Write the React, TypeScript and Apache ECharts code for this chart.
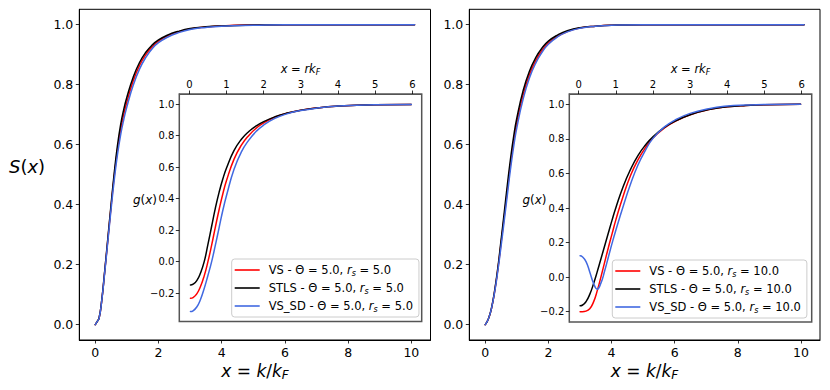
import React, { useEffect, useRef } from "react";
import * as echarts from "echarts";

const FONT = "DejaVu Sans";
const RED = "#ff0000";
const BLACK = "#000000";
const BLUE = "#4169e1";

// ---------- main panels: S(x) ----------
const sx = [0, 0.06, 0.12, 0.2, 0.3, 0.4, 0.5, 0.6, 0.7, 0.8, 0.9, 1.0, 1.2, 1.4, 1.6, 1.8, 2.0, 2.3, 2.6, 3.0, 3.5, 4.0, 5.0, 6.0, 8.0, 10.1];

const sVsL = [0, 0.01, 0.021, 0.076, 0.178, 0.285, 0.393, 0.494, 0.58, 0.648, 0.7, 0.742, 0.812, 0.864, 0.9, 0.926, 0.945, 0.963, 0.975, 0.986, 0.992, 0.996, 0.999, 1.0, 1.0, 1.0];
const sStlsL = [0, 0.01, 0.022, 0.077, 0.18, 0.29, 0.4, 0.505, 0.595, 0.665, 0.717, 0.758, 0.825, 0.874, 0.908, 0.932, 0.949, 0.966, 0.977, 0.987, 0.993, 0.996, 0.999, 1.0, 1.0, 1.0];
const sVsSdL = [0, 0.01, 0.021, 0.075, 0.175, 0.28, 0.385, 0.482, 0.565, 0.631, 0.683, 0.726, 0.798, 0.852, 0.891, 0.92, 0.94, 0.959, 0.972, 0.984, 0.991, 0.995, 0.998, 1.0, 1.0, 1.0];

const sVsR = [0, 0.01, 0.025, 0.055, 0.112, 0.185, 0.27, 0.358, 0.448, 0.535, 0.61, 0.672, 0.766, 0.833, 0.88, 0.914, 0.939, 0.962, 0.977, 0.989, 0.995, 0.998, 1.0, 1.0, 1.0, 1.0];
const sStlsR = [0, 0.01, 0.025, 0.056, 0.115, 0.19, 0.28, 0.372, 0.465, 0.552, 0.627, 0.688, 0.78, 0.845, 0.89, 0.922, 0.945, 0.966, 0.98, 0.99, 0.995, 0.998, 1.0, 1.0, 1.0, 1.0];
const sVsSdR = [0, 0.01, 0.025, 0.055, 0.11, 0.18, 0.26, 0.345, 0.432, 0.518, 0.593, 0.656, 0.752, 0.822, 0.872, 0.908, 0.935, 0.96, 0.976, 0.988, 0.995, 0.998, 1.0, 1.0, 1.0, 1.0];

// ---------- insets: g(x) ----------
const gxL = [0.03, 0.1, 0.2, 0.3, 0.4, 0.5, 0.6, 0.7, 0.8, 0.9, 1.0, 1.2, 1.4, 1.6, 1.8, 2.0, 2.3, 2.6, 3.0, 3.5, 4.0, 4.5, 5.0, 5.97];
const gVsL = [-0.232, -0.228, -0.205, -0.158, -0.09, 0.0, 0.105, 0.22, 0.33, 0.43, 0.515, 0.65, 0.74, 0.802, 0.848, 0.882, 0.917, 0.941, 0.962, 0.978, 0.988, 0.993, 0.996, 0.999];
const gStlsL = [-0.148, -0.143, -0.12, -0.072, 0.0, 0.11, 0.225, 0.34, 0.44, 0.525, 0.595, 0.705, 0.778, 0.827, 0.863, 0.89, 0.92, 0.942, 0.962, 0.978, 0.988, 0.993, 0.996, 0.999];
const gVsSdL = [-0.317, -0.312, -0.288, -0.24, -0.17, -0.088, 0.0, 0.105, 0.215, 0.325, 0.42, 0.585, 0.697, 0.772, 0.828, 0.868, 0.91, 0.937, 0.96, 0.977, 0.988, 0.993, 0.996, 0.999];

const gxR = [0.04, 0.1, 0.2, 0.3, 0.4, 0.5, 0.6, 0.7, 0.8, 0.9, 1.0, 1.2, 1.4, 1.6, 1.8, 2.0, 2.3, 2.6, 3.0, 3.5, 4.0, 4.5, 5.0, 5.97];
const gVsR = [-0.2, -0.2, -0.197, -0.183, -0.145, -0.08, 0.0, 0.085, 0.17, 0.25, 0.33, 0.47, 0.59, 0.68, 0.75, 0.805, 0.862, 0.902, 0.94, 0.97, 0.986, 0.994, 0.998, 1.0];
const gStlsR = [-0.166, -0.163, -0.142, -0.1, -0.04, 0.03, 0.105, 0.18, 0.255, 0.33, 0.4, 0.525, 0.625, 0.705, 0.765, 0.812, 0.865, 0.903, 0.94, 0.97, 0.986, 0.994, 0.998, 1.0];
const gVsSdR = [0.123, 0.118, 0.09, 0.03, -0.035, -0.07, -0.035, 0.035, 0.115, 0.195, 0.27, 0.41, 0.54, 0.65, 0.735, 0.803, 0.868, 0.91, 0.948, 0.975, 0.99, 0.996, 0.999, 1.0];

// ---------- ticks & labels ----------
const mainXTicks = [0, 2, 4, 6, 8, 10];
const mainYTicks = [0, 0.2, 0.4, 0.6, 0.8, 1.0];
const insetXTicks = [0, 1, 2, 3, 4, 5, 6];
const insetYTicks = [-0.2, 0, 0.2, 0.4, 0.6, 0.8, 1.0];

const namesL = ["VS - Θ = 5.0, r_s = 5.0", "STLS - Θ = 5.0, r_s = 5.0", "VS_SD - Θ = 5.0, r_s = 5.0"];
const namesR = ["VS - Θ = 5.0, r_s = 10.0", "STLS - Θ = 5.0, r_s = 10.0", "VS_SD - Θ = 5.0, r_s = 10.0"];

const fmt1 = (v: number) => {
  const s = Math.abs(v).toFixed(1);
  return v < -1e-9 ? "\u2212" + s : s;
};
const fmt0 = (v: number) => String(Math.round(v));

function xAxisCfg(gridIndex: number, min: number, max: number, ticks: number[], position: string, fontSize: number, margin: number, lineColor: string) {
  return {
    type: "value",
    gridIndex,
    min,
    max,
    position,
    axisLine: { show: true, onZero: false, lineStyle: { color: lineColor, width: 1 } },
    axisTick: { show: true, inside: false, length: 3.5, customValues: ticks, lineStyle: { color: "#000", width: 0.8 } },
    axisLabel: { show: true, customValues: ticks, formatter: fmt0, fontSize, fontFamily: FONT, color: "#000", margin },
    splitLine: { show: false },
  };
}
function yAxisCfg(gridIndex: number, min: number, max: number, ticks: number[], fontSize: number, margin: number, lineColor: string) {
  return {
    type: "value",
    gridIndex,
    min,
    max,
    position: "left",
    axisLine: { show: true, onZero: false, lineStyle: { color: lineColor, width: 1 } },
    axisTick: { show: true, inside: false, length: 3.5, customValues: ticks, lineStyle: { color: "#000", width: 0.8 } },
    axisLabel: { show: true, customValues: ticks, formatter: fmt1, fontSize, fontFamily: FONT, color: "#000", margin },
    splitLine: { show: false },
  };
}

function line(name: string, xs: number[], ys: number[], color: string, axis: number) {
  return {
    type: "line",
    name,
    xAxisIndex: axis,
    yAxisIndex: axis,
    data: xs.map((x, i) => [x, ys[i]]),
    symbol: "none",
    showSymbol: false,
    smooth: 0.5,
    lineStyle: { color, width: 1.5, join: "round", cap: "round" },
    itemStyle: { color },
    emphasis: { disabled: true },
  };
}

const legendRich = {
  i: { fontStyle: "italic", fontSize: 11.5, fontFamily: FONT, color: "#000" },
  s: { fontStyle: "italic", fontSize: 8, fontFamily: FONT, color: "#000", padding: [6, 0, 0, 0] },
};

function legendCfg(left: number, top: number, names: string[]) {
  return {
    show: true,
    orient: "vertical",
    left,
    top,
    data: names.map((n) => ({ name: n, icon: "rect" })),
    selectedMode: false,
    itemWidth: 25,
    itemHeight: 1.6,
    itemGap: 2,
    padding: [3, 6, 3, 3],
    backgroundColor: "rgba(255,255,255,0.8)",
    borderColor: "#cccccc",
    borderWidth: 1,
    borderRadius: 3,
    formatter: (n: string) => n.replace("r_s", "{i|r}{s|s}"),
    textStyle: { fontFamily: FONT, fontSize: 11.5, color: "#000", lineHeight: 16, padding: [0, 0, 0, 4], rich: legendRich },
  };
}

const textRich = (size: number, sub: number, shift: number) => ({
  i: { fontStyle: "italic", fontSize: size, fontFamily: FONT, fill: "#000" },
  s: { fontStyle: "italic", fontSize: sub, fontFamily: FONT, fill: "#000", padding: [shift, 0, 0, 0] },
});

function label(text: string, x: number, y: number, size: number, sub: number, shift: number) {
  return {
    type: "text",
    x,
    y,
    z: 100,
    style: {
      text,
      fontSize: size,
      fontFamily: FONT,
      fill: "#000",
      align: "center",
      verticalAlign: "middle",
      rich: textRich(size, sub, shift),
    },
  };
}

const option = {
  animation: false,
  backgroundColor: "#ffffff",
  grid: [
    { left: 79.3, top: 9.3, width: 351.2, height: 330.7, show: true, borderColor: "#000", borderWidth: 1, backgroundColor: "transparent" },
    { left: 179.3, top: 94, width: 242.4, height: 227.5, show: true, borderColor: "#555", borderWidth: 1.5, backgroundColor: "#ffffff" },
    { left: 469.3, top: 9.3, width: 350.7, height: 330.7, show: true, borderColor: "#000", borderWidth: 1, backgroundColor: "transparent" },
    { left: 569.3, top: 94, width: 242.4, height: 228, show: true, borderColor: "#555", borderWidth: 1.5, backgroundColor: "#ffffff" },
  ],
  xAxis: [
    xAxisCfg(0, -0.505, 10.605, mainXTicks, "bottom", 12.5, 6, "#000"),
    xAxisCfg(1, -0.27, 6.25, insetXTicks, "top", 10, 5, "#555"),
    xAxisCfg(2, -0.505, 10.605, mainXTicks, "bottom", 12.5, 6, "#000"),
    xAxisCfg(3, -0.25, 6.27, insetXTicks, "top", 10, 5, "#555"),
  ],
  yAxis: [
    yAxisCfg(0, -0.0513, 1.0513, mainYTicks, 12.5, 6, "#000"),
    yAxisCfg(1, -0.38, 1.065, insetYTicks, 10, 5, "#555"),
    yAxisCfg(2, -0.0513, 1.0513, mainYTicks, 12.5, 6, "#000"),
    yAxisCfg(3, -0.26, 1.06, insetYTicks, 10, 5, "#555"),
  ],
  legend: [legendCfg(231.7, 259, namesL), legendCfg(612.3, 260, namesR)],
  graphic: [
    label("{i|S}({i|x})", 27, 166, 18, 12, 8),
    label("{i|x} = {i|k}/{i|k}{s|F}", 255, 371, 17, 12, 8),
    label("{i|x} = {i|k}/{i|k}{s|F}", 644.5, 371, 17, 12, 8),
    label("{i|g}({i|x})", 145, 200, 12, 8.5, 6),
    label("{i|g}({i|x})", 534.5, 200, 12, 8.5, 6),
    label("{i|x} = {i|rk}{s|F}", 300.5, 69, 11.5, 8, 6),
    label("{i|x} = {i|rk}{s|F}", 690.5, 69, 11.5, 8, 6),
  ],
  series: [
    line(namesL[0] + " S", sx, sVsL, RED, 0),
    line(namesL[1] + " S", sx, sStlsL, BLACK, 0),
    line(namesL[2] + " S", sx, sVsSdL, BLUE, 0),
    line(namesL[0], gxL, gVsL, RED, 1),
    line(namesL[1], gxL, gStlsL, BLACK, 1),
    line(namesL[2], gxL, gVsSdL, BLUE, 1),
    line(namesR[0] + " S", sx, sVsR, RED, 2),
    line(namesR[1] + " S", sx, sStlsR, BLACK, 2),
    line(namesR[2] + " S", sx, sVsSdR, BLUE, 2),
    line(namesR[0], gxR, gVsR, RED, 3),
    line(namesR[1], gxR, gStlsR, BLACK, 3),
    line(namesR[2], gxR, gVsSdR, BLUE, 3),
  ],
};

export default function App() {
  const ref = useRef<HTMLDivElement>(null);
  useEffect(() => {
    if (!ref.current) return;
    const chart = echarts.init(ref.current, null, { renderer: "svg" });
    chart.setOption(option as any);
    return () => chart.dispose();
  }, []);
  return <div ref={ref} style={{ position: "absolute", left: 0, top: 0, width: 830, height: 390 }} />;
}
